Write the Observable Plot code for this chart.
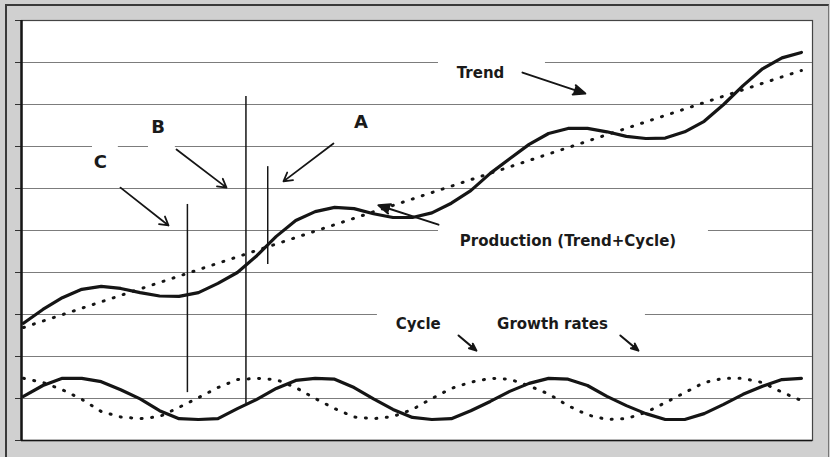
<!DOCTYPE html>
<html>
<head>
<meta charset="utf-8">
<script src="https://cdn.jsdelivr.net/npm/d3@7"></script>
<script src="https://cdn.jsdelivr.net/npm/@observablehq/plot@0.6"></script>
<style>
  html, body { margin: 0; padding: 0; background: #d0d0d0; }
  #wrap { position: relative; width: 830px; height: 457px; overflow: hidden; }
  #wrap .edge { position: absolute; left: 5px; top: 4px; right: 1px; bottom: -10px;
    border-left: 2px solid #3a3a3a; border-top: 2px solid #3a3a3a; border-right: 1px solid #777; pointer-events: none; }
</style>
</head>
<body>
<div id="wrap"></div>
<script>
// ---- data (time periods 0..40) ----
const periods = d3.range(0, 41);
const production = [2.79, 3.12, 3.40, 3.60, 3.67, 3.62, 3.52, 3.44, 3.43, 3.52, 3.74, 4.00, 4.40, 4.86, 5.24, 5.45, 5.55, 5.52, 5.40, 5.31, 5.31, 5.42, 5.65, 5.95, 6.36, 6.71, 7.05, 7.31, 7.43, 7.43, 7.35, 7.24, 7.19, 7.20, 7.35, 7.60, 8.00, 8.45, 8.85, 9.11, 9.24];
const cycle = [1.05, 1.31, 1.48, 1.48, 1.40, 1.21, 0.99, 0.71, 0.52, 0.50, 0.52, 0.76, 0.98, 1.24, 1.43, 1.48, 1.46, 1.26, 0.99, 0.74, 0.55, 0.50, 0.52, 0.71, 0.93, 1.17, 1.36, 1.48, 1.46, 1.31, 1.05, 0.83, 0.64, 0.50, 0.50, 0.64, 0.86, 1.10, 1.29, 1.45, 1.48];
const growth = [1.48, 1.38, 1.21, 0.98, 0.69, 0.56, 0.52, 0.57, 0.79, 1.02, 1.26, 1.45, 1.48, 1.45, 1.26, 1.00, 0.76, 0.56, 0.52, 0.57, 0.74, 1.00, 1.24, 1.39, 1.48, 1.46, 1.30, 1.11, 0.83, 0.61, 0.50, 0.52, 0.67, 0.90, 1.14, 1.38, 1.48, 1.48, 1.38, 1.15, 0.95];
const trendT = [0, 40];
const trendValues = [2.69, 8.81];

const xDomain = [-0.1, 40.57];
const yDomain = [0, 10];
const yTicks = d3.range(0, 11);
const gridValues = d3.range(1, 10);

// turning-point markers (period, low end, high end)
const markerNames = ["C", "B", "A"];
const markerT = [8.43, 11.44, 12.56];
const markerLow = [1.14, 0.88, 4.19];
const markerHigh = [5.62, 8.19, 6.52];

// annotation texts (data coordinates)
const labelText = ["Trend", "Production (Trend+Cycle)", "Cycle", "Growth rates"];
const labelT = [23.5, 28.0, 20.3, 27.2];
const labelV = [8.74, 4.74, 2.76, 2.76];
const letterText = ["A", "B", "C"];
const letterT = [17.35, 6.92, 3.96];
const letterV = [7.58, 7.45, 6.62];

// white label boxes
const boxX1 = [21.34, 6.43, 3.55, 21.34, 18.2];
const boxX2 = [26.84, 7.81, 4.88, 35.22, 31.98];
const boxY1 = [8.21, 6.90, 6.14, 4.24, 2.26];
const boxY2 = [9.17, 7.86, 7.10, 5.19, 3.21];

// arrows: filled heads (Trend, Production, Cycle, Growth rates) and open heads (B, C, A)
const solidArrowX1 = [25.66, 21.34, 22.37, 30.69];
const solidArrowY1 = [8.76, 5.14, 2.50, 2.50];
const solidArrowX2 = [28.89, 18.25, 23.29, 31.62];
const solidArrowY2 = [8.26, 5.60, 2.14, 2.14];
const openArrowX1 = [7.87, 4.99, 15.94];
const openArrowY1 = [6.93, 6.02, 7.07];
const openArrowX2 = [10.44, 7.46, 13.37];
const openArrowY2 = [6.02, 5.12, 6.17];

// ---- tables ----
const rows = periods.map((t, i) => ({t, production: production[i], cycle: cycle[i], growth: growth[i]}));
const trendRows = trendT.map((t, i) => ({t, v: trendValues[i]}));
const markers = markerNames.map((n, i) => ({n, t: markerT[i], lo: markerLow[i], hi: markerHigh[i]}));
const labels = labelText.map((s, i) => ({s, t: labelT[i], v: labelV[i]}));
const letters = letterText.map((s, i) => ({s, t: letterT[i], v: letterV[i]}));
const boxes = boxX1.map((_, i) => ({x1: boxX1[i], x2: boxX2[i], y1: boxY1[i], y2: boxY2[i]}));
const solidArrows = solidArrowX1.map((_, i) => ({x1: solidArrowX1[i], y1: solidArrowY1[i], x2: solidArrowX2[i], y2: solidArrowY2[i]}));
const openArrows = openArrowX1.map((_, i) => ({x1: openArrowX1[i], y1: openArrowY1[i], x2: openArrowX2[i], y2: openArrowY2[i]}));

const ink = "#151515";
const dotted = {stroke: ink, strokeWidth: 3, strokeDasharray: "1,9.5", strokeLinecap: "round"};
const font = "DejaVu Sans, Verdana, sans-serif";

const chart = Plot.plot({
  width: 830,
  height: 457,
  marginLeft: 21,
  marginRight: 18,
  marginTop: 20,
  marginBottom: 17,
  x: {domain: xDomain, axis: null},
  y: {domain: yDomain, axis: null},
  style: {background: "transparent", overflow: "visible"},
  marks: [
    Plot.frame({fill: "white", stroke: "#444", strokeWidth: 1.2}),
    Plot.ruleY(gridValues, {stroke: "#7c7c7c", strokeWidth: 1}),
    Plot.rect(boxes, {x1: "x1", x2: "x2", y1: "y1", y2: "y2", fill: "white"}),
    Plot.axisY({ticks: yTicks, tickSize: 6, tickFormat: () => "", stroke: "#333", strokeWidth: 1}),
    Plot.ruleX([xDomain[0]], {stroke: ink, strokeWidth: 2.5}),
    Plot.ruleY([yDomain[0]], {stroke: ink, strokeWidth: 1.6}),
    Plot.line(trendRows, {x: "t", y: "v", ...dotted}),
    Plot.line(rows, {x: "t", y: "growth", ...dotted}),
    Plot.ruleX(markers, {x: "t", y1: "lo", y2: "hi", stroke: ink, strokeWidth: 1.5}),
    Plot.line(rows, {x: "t", y: "production", stroke: ink, strokeWidth: 3.2, strokeLinejoin: "round"}),
    Plot.line(rows, {x: "t", y: "cycle", stroke: ink, strokeWidth: 3.2, strokeLinejoin: "round"}),
    Plot.arrow(solidArrows, {x1: "x1", y1: "y1", x2: "x2", y2: "y2", stroke: ink, fill: ink, strokeWidth: 2, headLength: 9.5, headAngle: 45}),
    Plot.arrow(openArrows, {x1: "x1", y1: "y1", x2: "x2", y2: "y2", stroke: ink, strokeWidth: 1.8, headLength: 8, headAngle: 60}),
    Plot.text(labels, {x: "t", y: "v", text: "s", fontSize: 15, fontWeight: "bold", fontFamily: font, fill: "#1a1a1a"}),
    Plot.text(letters, {x: "t", y: "v", text: "s", fontSize: 18, fontWeight: "bold", fontFamily: font, fill: "#1a1a1a"})
  ]
});

const wrap = document.getElementById("wrap");
wrap.appendChild(chart);
const edge = document.createElement("div");
edge.className = "edge";
wrap.appendChild(edge);
</script>
</body>
</html>
